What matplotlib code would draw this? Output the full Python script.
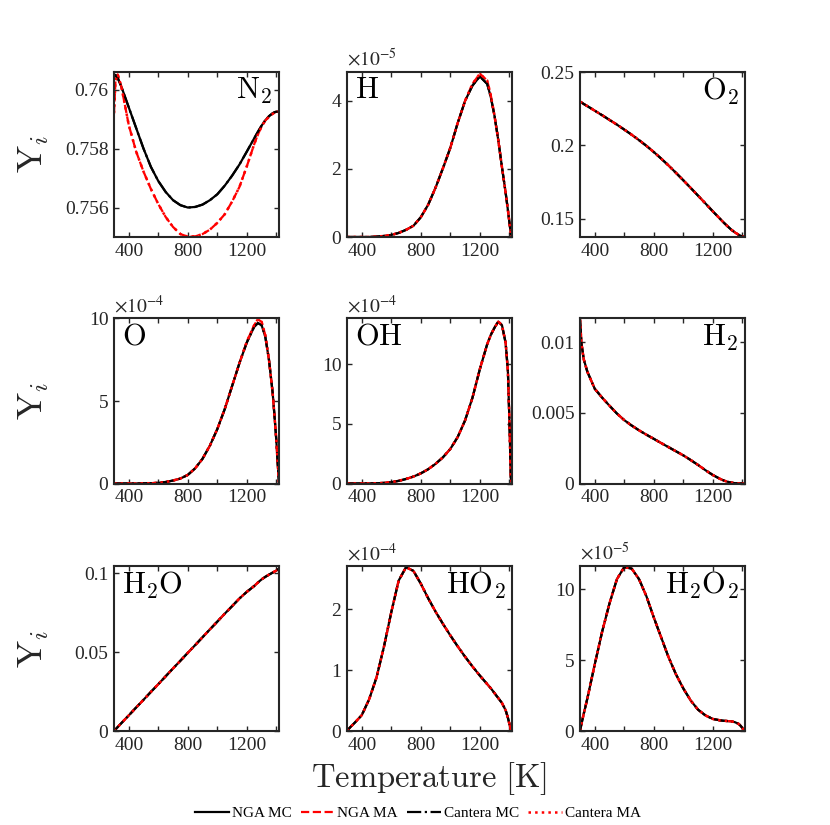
import matplotlib
matplotlib.use('Agg')
import matplotlib.pyplot as plt
import numpy as np

plt.rcParams['font.family'] = ['Liberation Serif', 'DejaVu Serif']
plt.rcParams['mathtext.fontset'] = 'stix'

# temperature grid [K]
T = [300, 310, 325, 350, 400, 450, 500, 550, 600, 650, 700, 750, 800, 850, 900, 950,
     1000, 1050, 1100, 1150, 1200, 1250, 1275, 1300, 1325, 1350, 1375, 1390, 1400, 1410, 1418]

N2_MC = [0.76042, 0.76050, 0.76040, 0.7601, 0.7594, 0.7587, 0.7580, 0.75738, 0.7569, 0.75653,
         0.75625, 0.75608, 0.75600, 0.75602, 0.7561, 0.75625, 0.75645, 0.75674, 0.75708, 0.75746,
         0.7579, 0.75835, 0.75857, 0.75878, 0.75896, 0.7591, 0.7592, 0.75924, 0.75925, 0.75925, 0.75925]
N2_MA = [0.7592, 0.7603, 0.76052, 0.7601, 0.7588, 0.7579, 0.75722, 0.75663, 0.75612, 0.75568,
         0.75534, 0.7551, 0.75501, 0.75502, 0.7551, 0.75525, 0.75548, 0.75577, 0.7562, 0.7567,
         0.7574, 0.75815, 0.75848, 0.75875, 0.75895, 0.75908, 0.75918, 0.75923, 0.75925, 0.75925, 0.75925]

H_MC = np.array([0, 0, 0, 0, 0, 0, 0.01, 0.03, 0.06, 0.12, 0.21, 0.33, 0.58, 0.95, 1.45, 2.02,
                 2.62, 3.35, 4.0, 4.45, 4.72, 4.5, 4.1, 3.55, 2.85, 2.05, 1.3, 0.8, 0.45, 0.1, 0]) * 1e-5
H_MA = np.array([0, 0, 0, 0, 0, 0, 0.01, 0.03, 0.06, 0.12, 0.21, 0.33, 0.58, 0.95, 1.45, 2.02,
                 2.62, 3.35, 4.0, 4.5, 4.8, 4.6, 4.15, 3.55, 2.85, 2.05, 1.3, 0.8, 0.45, 0.1, 0]) * 1e-5

O2_MC = [0.2298, 0.2292, 0.2282, 0.2267, 0.2236, 0.2205, 0.2173, 0.2141, 0.2107, 0.2072,
         0.2035, 0.1996, 0.1954, 0.1909, 0.1862, 0.1812, 0.1761, 0.1709, 0.1656, 0.1603,
         0.1549, 0.1497, 0.1471, 0.1447, 0.1424, 0.1405, 0.1389, 0.1382, 0.1378, 0.1375, 0.1374]

O_MC = np.array([0, 0, 0, 0, 0, 0, 0.01, 0.02, 0.04, 0.09, 0.18, 0.3, 0.52, 0.92, 1.5, 2.3,
                 3.3, 4.5, 5.9, 7.3, 8.55, 9.5, 9.72, 9.6, 8.9, 7.5, 5.5, 3.8, 2.6, 1.1, 0]) * 1e-4
O_MA = np.array([0, 0, 0, 0, 0, 0, 0.01, 0.02, 0.04, 0.09, 0.18, 0.3, 0.52, 0.92, 1.5, 2.3,
                 3.3, 4.5, 5.9, 7.3, 8.6, 9.6, 9.95, 9.8, 9.0, 7.5, 5.5, 3.8, 2.6, 1.1, 0]) * 1e-4

OH_MC = np.array([0, 0, 0, 0, 0, 0.01, 0.02, 0.05, 0.12, 0.22, 0.38, 0.58, 0.85, 1.2, 1.65, 2.2,
                  2.9, 3.9, 5.3, 7.2, 9.6, 11.7, 12.5, 13.1, 13.6, 13.3, 11.8, 9.5, 5.5, 0.5, 0]) * 1e-4

H2_MC = [0.0116, 0.0099, 0.0088, 0.0079, 0.0067, 0.00607, 0.0055, 0.00495, 0.00448, 0.0041,
         0.00376, 0.00345, 0.00316, 0.00286, 0.00257, 0.00228, 0.00199, 0.00166, 0.00131, 0.00094,
         0.0006, 0.00032, 0.00021, 0.00012, 0.00006, 0.00002, 0.000005, 0, 0, 0, 0]

H2O_MC = [0, 0.001, 0.0025, 0.005, 0.0099, 0.0149, 0.0198, 0.0248, 0.0297, 0.0347,
          0.0397, 0.0446, 0.0496, 0.0545, 0.0595, 0.0645, 0.0694, 0.0744, 0.0792, 0.0841,
          0.0883, 0.092, 0.0942, 0.0962, 0.0978, 0.0992, 0.1005, 0.1013, 0.1018, 0.1025, 0.103]

HO2_MC = np.array([0, 0.03, 0.07, 0.13, 0.26, 0.52, 0.88, 1.38, 1.95, 2.47, 2.69, 2.63, 2.42, 2.18,
                   1.96, 1.76, 1.57, 1.39, 1.22, 1.06, 0.91, 0.77, 0.7, 0.62, 0.54, 0.46, 0.34,
                   0.22, 0.12, 0.02, 0]) * 1e-4

H2O2_MC = np.array([0, 0.5, 1.2, 2.3, 4.7, 7.0, 9.0, 10.7, 11.55, 11.45, 10.7, 9.5, 8.0, 6.6,
                    5.2, 4.0, 3.0, 2.15, 1.5, 1.1, 0.85, 0.75, 0.72, 0.7, 0.68, 0.62, 0.5,
                    0.35, 0.2, 0.07, 0]) * 1e-5

# (MC, MA, label, label side, ylim, yticks, exponent)
panels = [
    (N2_MC, N2_MA, r'$\mathrm{N_2}$', 'right', (0.755, 0.7606), [0.756, 0.758, 0.76], 0),
    (H_MC, H_MA, r'$\mathrm{H}$', 'left', (0, 4.85e-5), [0, 2e-5, 4e-5], -5),
    (O2_MC, O2_MC, r'$\mathrm{O_2}$', 'right', (0.1374, 0.25), [0.15, 0.2, 0.25], 0),
    (O_MC, O_MA, r'$\mathrm{O}$', 'left', (0, 1e-3), [0, 5e-4, 1e-3], -4),
    (OH_MC, OH_MC, r'$\mathrm{OH}$', 'left', (0, 13.86e-4), [0, 5e-4, 10e-4], -4),
    (H2_MC, H2_MC, r'$\mathrm{H_2}$', 'right', (0, 0.01167), [0, 0.005, 0.01], 0),
    (H2O_MC, H2O_MC, r'$\mathrm{H_2O}$', 'left', (0, 0.1047), [0, 0.05, 0.1], 0),
    (HO2_MC, HO2_MC, r'$\mathrm{HO_2}$', 'right', (0, 2.71e-4), [0, 1e-4, 2e-4], -4),
    (H2O2_MC, H2O2_MC, r'$\mathrm{H_2O_2}$', 'right', (0, 11.63e-5), [0, 5e-5, 10e-5], -5),
]

fig = plt.figure(figsize=(8.3, 8.25), dpi=100)
lefts = [114 / 830, 347 / 830, 580 / 830]
bottoms = [1 - 237 / 825, 1 - 483.5 / 825, 1 - 731 / 825]
axcol = '#262626'

lines = []
for k, (mc, ma, name, side, ylim, yticks, ex) in enumerate(panels):
    ax = fig.add_axes([lefts[k % 3], bottoms[k // 3], 165 / 830, 165 / 825])
    l1, = ax.plot(T, mc, color='k', ls='-', lw=1.6)
    l2, = ax.plot(T, ma, color='r', ls='--', lw=1.6)
    l3, = ax.plot(T, mc, color='k', ls='-.', lw=1.6)
    l4, = ax.plot(T, ma, color='r', ls=':', lw=1.8)
    lines = [l1, l2, l3, l4]
    ax.set_xlim(300, 1418)
    ax.set_ylim(ylim)
    ax.set_xticks([400, 600, 800, 1000, 1200, 1400])
    ax.set_xticklabels(['400', '', '800', '', '1200', ''])
    ax.set_yticks(yticks)
    ax.set_yticklabels(['%g' % round(v / 10.0 ** ex, 6) for v in yticks])
    ax.tick_params(direction='in', top=True, right=True, length=3.5, width=1,
                   labelsize=14, colors=axcol, pad=4)
    for sp in ax.spines.values():
        sp.set_linewidth(1.5)
        sp.set_color(axcol)
    if ex != 0:
        ax.text(0.0, 1.01, r'$\times10^{%d}$' % ex, transform=ax.transAxes,
                ha='left', va='bottom', fontsize=14, color=axcol)
    if side == 'right':
        ax.text(0.96, 0.975, name, transform=ax.transAxes, ha='right', va='top',
                fontsize=22, math_fontfamily='cm')
    else:
        ax.text(0.05, 0.975, name, transform=ax.transAxes, ha='left', va='top',
                fontsize=22, math_fontfamily='cm')

for yc in [154, 401, 648.5]:
    fig.text(34 / 830, 1 - yc / 825, r'$\mathrm{Y}_i$', rotation=90, ha='center', va='center',
             fontsize=26, math_fontfamily='cm', color=axcol)

fig.text(429 / 830, 1 - 779 / 825, r'$\mathrm{Temperature\ [K]}$', ha='center', va='center',
         fontsize=23.5, math_fontfamily='cm', color=axcol)

fig.legend(lines, ['NGA MC', 'NGA MA', 'Cantera MC', 'Cantera MA'], loc='center',
           bbox_to_anchor=(418 / 830, 1 - 813 / 825), ncol=4, frameon=False, fontsize=11,
           handlelength=2.2, handletextpad=0.2, columnspacing=0.6)

fig.savefig('out.png', dpi=100)
